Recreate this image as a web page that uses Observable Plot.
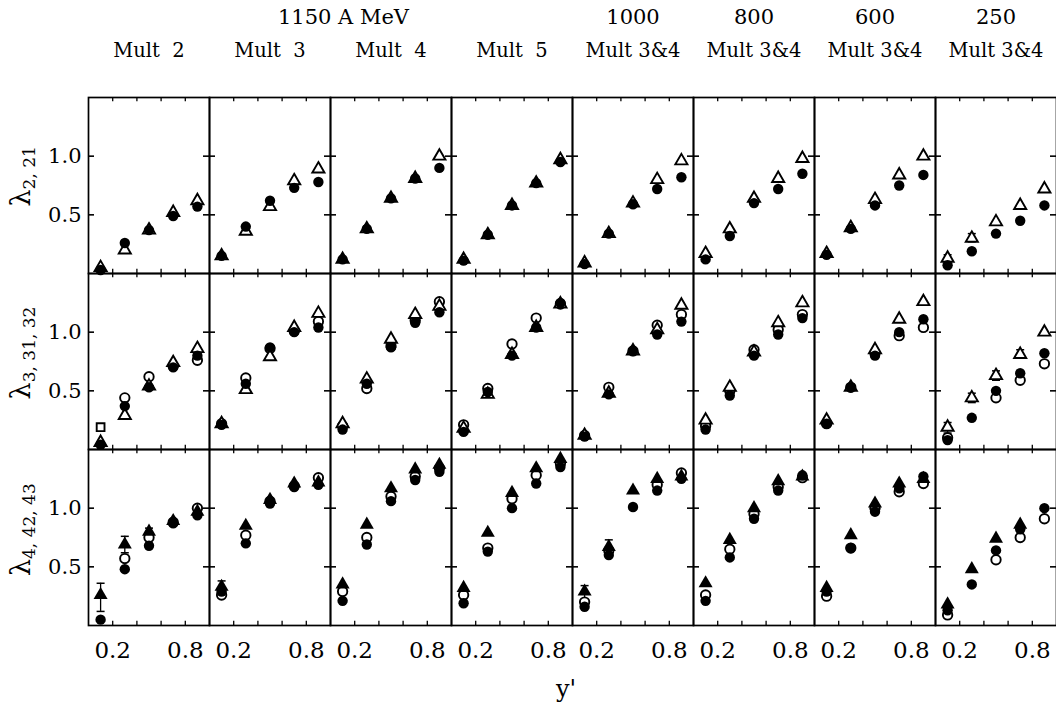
<!DOCTYPE html>
<html><head><meta charset="utf-8">
<script src="https://cdn.jsdelivr.net/npm/d3@7"></script>
<script src="https://cdn.jsdelivr.net/npm/@observablehq/plot@0.6"></script>
<style>body{margin:0;background:#fff} svg{display:block}</style>
</head><body><div id="chart"></div>
<script>
// ---------- data ----------
const yPrime = [0.1, 0.3, 0.5, 0.7, 0.9];
const multLabels = ["Mult\u00a0\u00a02", "Mult\u00a0\u00a03", "Mult\u00a0\u00a04", "Mult\u00a0\u00a05", "Mult 3&4", "Mult 3&4", "Mult 3&4", "Mult 3&4"];
const energyLabels = [null, null, null, null, "1000", "800", "600", "250"];
const groupEnergyLabel = "1150 A MeV";
const rowKeys = ["r2", "r3", "r4"];
const rowLabelMain = ["\u03bb", "\u03bb", "\u03bb"];
const rowLabelSub = ["2, 21", "3, 31, 32", "4, 42, 43"];
const xTickValues = [0.2, 0.4, 0.6, 0.8];
const xTickLabels = [0.2, 0.8];
const yTickValues = [0.5, 1.0];
const xTitle = "y'";

// row 1 (lambda 2,21): filled circles, open triangles  [column][point]
const r1Filled = [
  [0.03, 0.26, 0.37, 0.49, 0.57],
  [0.15, 0.40, 0.62, 0.73, 0.78],
  [0.12, 0.38, 0.64, 0.81, 0.90],
  [0.11, 0.33, 0.58, 0.77, 0.95],
  [0.08, 0.34, 0.59, 0.72, 0.82],
  [0.12, 0.32, 0.60, 0.72, 0.85],
  [0.16, 0.38, 0.58, 0.75, 0.84],
  [0.07, 0.19, 0.34, 0.45, 0.58]
];
const r1OpenTri = [
  [0.05, 0.20, 0.37, 0.52, 0.62],
  [0.15, 0.36, 0.57, 0.79, 0.89],
  [0.12, 0.38, 0.64, 0.81, 1.00],
  [0.12, 0.33, 0.58, 0.77, 0.97],
  [0.09, 0.34, 0.60, 0.80, 0.96],
  [0.17, 0.38, 0.64, 0.81, 0.98],
  [0.17, 0.39, 0.63, 0.84, 1.00],
  [0.13, 0.30, 0.44, 0.58, 0.72]
];
// row 2 (lambda 3,31,32): open circles, filled circles, open triangles
const r2Open = [
  [null, 0.44, 0.62, 0.71, 0.76],
  [0.22, 0.61, 0.86, 1.01, 1.09],
  [0.20, 0.52, 0.88, 1.10, 1.26],
  [0.21, 0.52, 0.90, 1.12, 1.24],
  [0.12, 0.53, 0.84, 1.06, 1.15],
  [0.20, 0.50, 0.85, 1.02, 1.15],
  [0.22, 0.53, 0.82, 0.97, 1.04],
  [0.10, null, 0.44, 0.59, 0.73]
];
const r2OpenSquare = [[0, 0.1, 0.19]]; // [column, y', value]
const r2Filled = [
  [0.04, 0.37, 0.53, 0.70, 0.80],
  [0.21, 0.56, 0.87, 1.00, 1.04],
  [0.17, 0.56, 0.87, 1.08, 1.17],
  [0.15, 0.49, 0.80, 1.04, 1.25],
  [0.11, 0.47, 0.84, 0.98, 1.09],
  [0.17, 0.46, 0.80, 0.98, 1.12],
  [0.22, 0.53, 0.80, 1.00, 1.11],
  [0.08, 0.27, 0.50, 0.65, 0.82]
];
const r2OpenTri = [
  [0.06, 0.29, 0.54, 0.74, 0.86],
  [0.22, 0.51, 0.79, 1.04, 1.16],
  [0.22, 0.60, 0.94, 1.15, 1.22],
  [0.18, 0.47, 0.81, 1.04, 1.24],
  [0.12, 0.48, 0.84, 1.02, 1.23],
  [0.25, 0.53, 0.83, 1.08, 1.25],
  [0.25, 0.53, 0.85, 1.11, 1.26],
  [0.19, 0.44, 0.63, 0.81, 1.00]
];
// row 3 (lambda 4,42,43): open circles, filled circles, filled triangles
const r3Open = [
  [null, 0.57, 0.75, 0.88, 1.00],
  [0.26, 0.77, 1.06, 1.19, 1.26],
  [0.29, 0.75, 1.10, 1.27, 1.34],
  [0.26, 0.66, 1.08, 1.28, 1.38],
  [0.20, 0.64, null, 1.20, 1.30],
  [0.26, 0.65, 0.95, 1.18, 1.26],
  [0.25, 0.66, 1.00, 1.14, 1.21],
  [0.09, null, 0.56, 0.75, 0.91]
];
const r3Filled = [
  [0.05, 0.48, 0.68, 0.87, 0.94],
  [0.29, 0.70, 1.04, 1.18, 1.20],
  [0.21, 0.69, 1.06, 1.24, 1.31],
  [0.19, 0.63, 1.00, 1.21, 1.35],
  [0.16, 0.60, 1.01, 1.15, 1.25],
  [0.21, 0.58, 0.91, 1.15, 1.28],
  [0.29, 0.66, 0.97, 1.17, 1.27],
  [0.13, 0.35, 0.64, 0.82, 1.00]
];
const r3FilledTri = [
  [0.26, 0.69, 0.80, 0.89, 0.97],
  [0.33, 0.85, 1.07, 1.21, 1.22],
  [0.35, 0.86, 1.17, 1.33, 1.37],
  [0.32, 0.79, 1.13, 1.34, 1.42],
  [0.29, 0.67, 1.15, 1.25, 1.27],
  [0.36, 0.73, 1.00, 1.23, 1.27],
  [0.32, 0.77, 1.04, 1.21, 1.25],
  [0.18, 0.48, 0.74, 0.86, null]
];
// error bars: [row, column, point index, low, high]
const errorBars = [
  [0, 7, 0, 0.11, 0.16], [0, 7, 1, 0.27, 0.34],
  [1, 7, 0, 0.14, 0.23], [1, 7, 1, 0.40, 0.48], [1, 7, 2, 0.59, 0.67], [1, 7, 3, 0.78, 0.85],
  [2, 0, 0, 0.12, 0.36], [2, 0, 1, 0.62, 0.76], [2, 0, 2, 0.75, 0.83],
  [2, 1, 0, 0.28, 0.38],
  [2, 4, 0, 0.20, 0.34], [2, 4, 1, 0.63, 0.73]
];

// ---------- layout ----------
const W = 1056, H = 707, ML = 88, MR = 0, MT = 96, MB = 81;
const nCols = multLabels.length;
const fw = (W - ML - MR) / nCols, fh = (H - MT - MB) / rowKeys.length;

function flat(table, row) {
  const out = [];
  table.forEach((vals, c) => vals.forEach((v, i) => {
    if (v != null) out.push({col: c, row: rowKeys[row], x: yPrime[i], v});
  }));
  return out;
}
const openCircles = [...flat(r2Open, 1), ...flat(r3Open, 2)];
const openSquares = r2OpenSquare.map(([c, x, v]) => ({col: c, row: rowKeys[1], x, v}));
const openTris = [...flat(r1OpenTri, 0), ...flat(r2OpenTri, 1)];
const filledCircles = [...flat(r1Filled, 0), ...flat(r2Filled, 1), ...flat(r3Filled, 2)];
const filledTris = flat(r3FilledTri, 2);
const errs = errorBars.map(([r, c, i, lo, hi]) => ({row: rowKeys[r], col: c, x: yPrime[i], lo, hi}));
const caps = errs.flatMap(d => [{...d, v: d.lo}, {...d, v: d.hi}]);
const capSymbol = {draw(ctx, size) { const r = Math.sqrt(size / Math.PI); ctx.moveTo(-r, 0); ctx.lineTo(r, 0); }};

const multData = multLabels.map((t, c) => ({col: c, row: rowKeys[0], t}));
const energyData = energyLabels.map((t, c) => ({col: c, row: rowKeys[0], t})).filter(d => d.t);
const yLabData = rowKeys.flatMap(r => yTickValues.map(v => ({col: 0, row: r, v})));
const xLabData = d3.range(nCols).flatMap(c => xTickLabels.map(x => ({col: c, row: rowKeys[2], x})));

const blk = "black";
const chart = Plot.plot({
  width: W, height: H,
  marginLeft: ML, marginRight: MR, marginTop: MT, marginBottom: MB,
  x: {domain: [0, 1], axis: null},
  y: {domain: [0, 1.5], axis: null},
  fx: {domain: d3.range(nCols), padding: 0, axis: null},
  fy: {domain: rowKeys, padding: 0, axis: null},
  style: {fontFamily: "'DejaVu Serif', serif", color: "black", background: "white"},
  marks: [
    Plot.frame({stroke: blk, strokeWidth: 1.7}),
    Plot.tickX(xTickValues, {x: d => d, insetTop: fh - 5, stroke: blk, strokeWidth: 1.3}),
    Plot.tickX(xTickValues, {x: d => d, insetBottom: fh - 5, stroke: blk, strokeWidth: 1.3}),
    Plot.tickY(yTickValues, {y: d => d, insetRight: fw - 6, stroke: blk, strokeWidth: 1.6}),
    Plot.tickY(yTickValues, {y: d => d, insetLeft: fw - 6, stroke: blk, strokeWidth: 1.6}),
    Plot.ruleX(errs, {fx: "col", fy: "row", x: "x", y1: "lo", y2: "hi", stroke: blk, strokeWidth: 1.3}),
    Plot.dot(caps, {fx: "col", fy: "row", x: "x", y: "v", symbol: capSymbol, r: 4, stroke: blk, strokeWidth: 1.5}),
    Plot.dot(openCircles, {fx: "col", fy: "row", x: "x", y: "v", r: 4.7, fill: "white", stroke: blk, strokeWidth: 1.9}),
    Plot.dot(openSquares, {fx: "col", fy: "row", x: "x", y: "v", symbol: "square", r: 4.4, fill: "white", stroke: blk, strokeWidth: 1.9}),
    Plot.dot(openTris, {fx: "col", fy: "row", x: "x", y: "v", symbol: "triangle", r: 4.5, fill: "white", stroke: blk, strokeWidth: 1.9}),
    Plot.dot(filledCircles, {fx: "col", fy: "row", x: "x", y: "v", r: 5.2, fill: blk}),
    Plot.dot(filledTris, {fx: "col", fy: "row", x: "x", y: "v", symbol: "triangle", r: 5.2, fill: blk}),
    Plot.text(yLabData, {fx: "col", fy: "row", y: "v", text: d => d.v.toFixed(1), frameAnchor: "left", dx: -7, textAnchor: "end", fontSize: 21}),
    Plot.text(xLabData, {fx: "col", fy: "row", x: "x", text: d => d.x.toFixed(1), frameAnchor: "bottom", lineAnchor: "middle", dy: 25, fontSize: 23, ariaLabel: "xticklabels"}),
    Plot.text(multData, {fx: "col", fy: "row", text: "t", frameAnchor: "top", lineAnchor: "middle", dy: -47, fontSize: 19.5, ariaLabel: "mult"}),
    Plot.text(energyData, {fx: "col", fy: "row", text: "t", frameAnchor: "top", lineAnchor: "middle", dy: -80, fontSize: 21, ariaLabel: "energy"}),
    Plot.text([{col: 2, row: rowKeys[0], t: groupEnergyLabel}], {fx: "col", fy: "row", text: "t", frameAnchor: "top-left", lineAnchor: "middle", dx: 13, dy: -80, textAnchor: "middle", fontSize: 21, ariaLabel: "energy1150"})
  ]
});
document.getElementById("chart").appendChild(chart);

const svg = d3.select(chart);
svg.selectAll('g[aria-label="mult"] text').each(function(d, i) {
  d3.select(this).style("letter-spacing", i < 4 ? "3.5px" : "1.5px");
});
svg.selectAll('g[aria-label="energy"] text').style("letter-spacing", "1px");
svg.selectAll('g[aria-label="energy1150"] text').style("letter-spacing", "3px");
svg.selectAll('g[aria-label="xticklabels"] text')
  .style("font-family", "'DejaVu Sans Condensed', 'Liberation Sans Narrow', 'DejaVu Sans', sans-serif")
  .style("font-stretch", "condensed");

// row titles with subscripts
rowKeys.forEach((r, i) => {
  const cy = MT + fh * (i + 0.5) - 8;
  const t = svg.append("text")
    .attr("transform", `translate(30,${cy}) rotate(-90)`)
    .attr("text-anchor", "middle")
    .attr("font-family", "'DejaVu Serif', serif")
    .attr("fill", "black");
  t.append("tspan").attr("font-size", 27).text(rowLabelMain[i]);
  t.append("tspan").attr("font-size", 17).attr("dy", 5).text(rowLabelSub[i]);
});
svg.append("text")
  .attr("x", ML + (W - ML - MR) / 2 - 6).attr("y", 697)
  .attr("text-anchor", "middle")
  .attr("font-family", "'DejaVu Serif', serif")
  .attr("font-size", 24).attr("fill", "black")
  .text(xTitle);
</script>
</body></html>
